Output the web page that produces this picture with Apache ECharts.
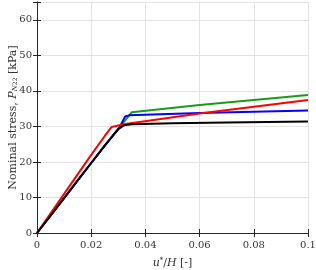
<!DOCTYPE html>
<html><head><meta charset="utf-8">
<script src="https://cdn.jsdelivr.net/npm/echarts@6/dist/echarts.min.js"></script>
<style>html,body{margin:0;padding:0;background:#fff}#c{width:316px;height:270px}</style>
</head><body><div id="c"></div>
<script>
const xTicks = [0, 0.02, 0.04, 0.06, 0.08, 0.1];
const yTicks = [0, 10, 20, 30, 40, 50, 60];
const blackX = [0, 0.005, 0.01, 0.015, 0.02, 0.025, 0.028, 0.030, 0.032, 0.035, 0.05, 0.07, 0.1];
const blackY = [0, 4.9, 9.8, 14.8, 19.7, 24.6, 27.4, 29.2, 30.3, 30.6, 30.9, 31.1, 31.4];
const redX = [0, 0.01, 0.02, 0.025, 0.0275, 0.032, 0.06, 0.1];
const redY = [0, 11, 22, 27.3, 29.8, 30.6, 33.6, 37.4];
const greenX = [0, 0.01, 0.02, 0.025, 0.028, 0.030, 0.035, 0.06, 0.1];
const greenY = [0, 9.8, 19.7, 24.6, 27.4, 29.3, 34.0, 36.0, 38.8];
const blueX = [0, 0.01, 0.02, 0.025, 0.028, 0.0305, 0.0325, 0.034, 0.06, 0.1];
const blueY = [0, 9.8, 19.7, 24.6, 27.4, 29.8, 32.8, 33.1, 33.8, 34.5];

const pairs = (xs, ys) => xs.map((x, i) => [x, ys[i]]);
const font = 'DejaVu Serif';
const axisCol = '#262626';
const chart = echarts.init(document.getElementById('c'), null, {renderer: 'canvas'});
const mk = (name, xs, ys, color) => ({name, type: 'line', data: pairs(xs, ys), showSymbol: false, smooth: false,
  lineStyle: {color, width: 2}, itemStyle: {color}, animation: false});
const baseX = {type: 'value', min: 0, max: 0.1, interval: 0.02,
  axisLine: {show: true, lineStyle: {color: axisCol, width: 1}},
  axisTick: {show: true, inside: true, length: 4, lineStyle: {color: axisCol}},
  splitLine: {show: true, lineStyle: {color: '#e3e3e3', width: 1}}};
const baseY = {type: 'value', min: 0, max: 65, interval: 10,
  axisLine: {show: true, lineStyle: {color: axisCol, width: 1}},
  axisTick: {show: true, inside: true, length: 4, lineStyle: {color: axisCol}},
  splitLine: {show: true, lineStyle: {color: '#e3e3e3', width: 1}}};
chart.setOption({
  backgroundColor: '#fff',
  animation: false,
  grid: {left: 37, right: 8, top: 2, bottom: 37, containLabel: false, outerBoundsMode: 'none'},
  xAxis: [
    Object.assign({}, baseX, {position: 'bottom',
      axisLabel: {color: '#333', fontFamily: font, fontSize: 10, margin: 7,
        formatter: v => xTicks.includes(+v.toFixed(2)) ? String(+v.toFixed(2)) : ''},
      name: '{i|u}{s|*}{n|/}{i|H} {n|[-]}', nameLocation: 'middle', nameGap: 24,
      nameTextStyle: {rich: {
        i: {fontFamily: font, fontStyle: 'italic', fontSize: 11, color: '#333'},
        s: {fontFamily: font, fontSize: 7, color: '#333', verticalAlign: 'top', padding: [0,0,6,0]},
        n: {fontFamily: font, fontSize: 11, color: '#333'}}}}),
    Object.assign({}, baseX, {position: 'top', axisLabel: {show: false}, splitLine: {show: false}})
  ],
  yAxis: [
    Object.assign({}, baseY, {position: 'left',
      axisLabel: {color: '#333', fontFamily: font, fontSize: 10, margin: 5,
        formatter: v => yTicks.includes(v) ? String(v) : ''},
      name: '{n|Nominal stress, }{i|P}{sub|N}{sub2|22}{n| [kPa]}', nameLocation: 'middle', nameGap: 24, nameRotate: 90,
      nameMoveOverlap: false,
      nameTextStyle: {verticalAlign: 'middle', align: 'center', rich: {
        i: {fontFamily: font, fontStyle: 'italic', fontSize: 11, color: '#333'},
        sub: {fontFamily: font, fontStyle: 'italic', fontSize: 7, color: '#333', padding: [4,0,0,0]},
        sub2: {fontFamily: font, fontSize: 6, color: '#333', padding: [5,0,0,0]},
        n: {fontFamily: font, fontSize: 11, color: '#333'}}}}),
    Object.assign({}, baseY, {position: 'right', axisLabel: {show: false}, splitLine: {show: false}})
  ],
  series: [
    mk('green', greenX, greenY, '#1b9a1b'),
    mk('blue', blueX, blueY, '#0000ff'),
    mk('red', redX, redY, '#ff0000'),
    mk('black', blackX, blackY, '#000000')
  ]
});
</script></body></html>
